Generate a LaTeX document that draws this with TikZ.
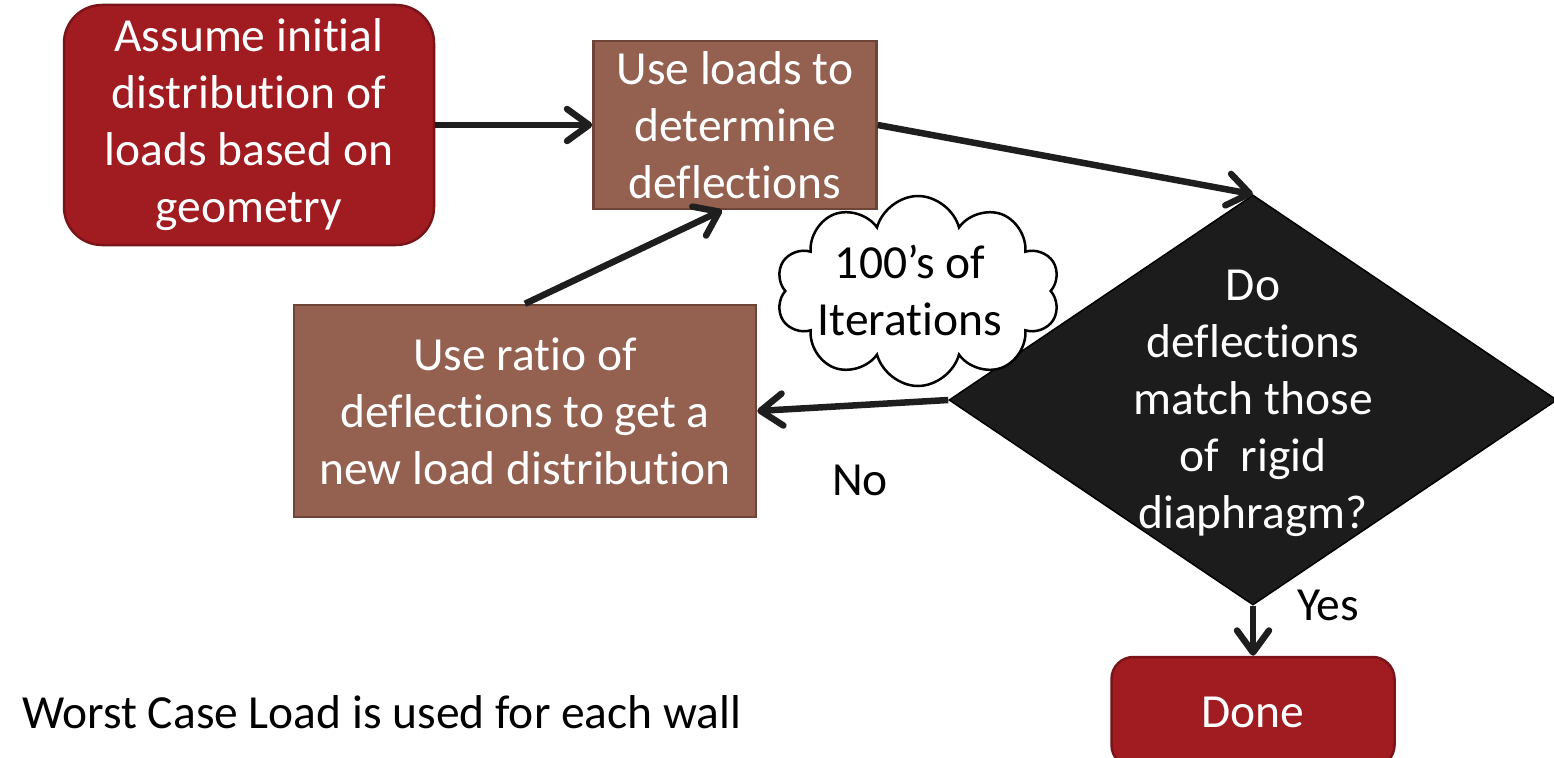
\documentclass[tikz,border=0pt]{standalone}
\usepackage{fontspec}
\setmainfont[Ligatures=CommonOff]{Carlito}
\usepackage{xcolor}
\usetikzlibrary{positioning,arrows.meta,shapes.geometric,shapes.symbols}
\definecolor{ink}{HTML}{1E1E1E}
\definecolor{termRed}{HTML}{A11C21}
\definecolor{termEdge}{HTML}{7A1418}
\definecolor{procBrown}{HTML}{94604F}
\definecolor{procEdge}{HTML}{6E4437}
\definecolor{decideFill}{HTML}{1C1C1C}
\tikzset{
  txt/.style={font=\fontsize{47.5}{57}\selectfont, align=center},
  term/.style={rectangle, rounded corners=38pt, fill=termRed, draw=termEdge, line width=2.5pt, inner sep=0pt, txt, text=white},
  proc/.style={rectangle, fill=procBrown, draw=procEdge, line width=2.5pt, inner sep=0pt, txt, text=white},
  decide/.style={diamond, fill=decideFill, draw=black, line width=1.5pt, inner sep=0pt},
  flow/.style={draw=ink, line width=6.5pt, -{Straight Barb[length=22pt,width=32pt,line cap=round,line join=round]}},
}

\begin{document}
\begin{tikzpicture}[x=1pt,y=-1pt]
\useasboundingbox (0,0) rectangle (1554,757);
% process boxes
\node[term, minimum width=370pt, minimum height=240pt] (init) at (249,125) {Assume initial\\distribution of\\loads based on\\geometry};
\node[proc, minimum width=283pt, minimum height=168pt] (defl) at (735,125) {Use loads to\\determine\\deflections};
\node[proc, minimum width=462pt, minimum height=212pt] (ratio) at (525,411) {Use ratio of\\deflections to get a\\new load distribution};
% decision
\node[decide, minimum width=608pt, minimum height=410pt] (check) at (1253,400) {};
\node[txt, text=white] (checktxt) at (1253,403) {Do\\deflections\\match those\\of~ rigid\\diaphragm?};
% loop note
\node[cloud, draw=black, fill=white, line width=2.5pt, cloud puffs=10, cloud ignores aspect, minimum width=284pt, minimum height=190pt, inner sep=0pt] (iter) at (918,291) {};
\node[txt] (itertxt) at (910,290) {100’s of\\Iterations};
\node[term, rounded corners=22pt, minimum width=283pt, minimum height=110pt] (done) at (1253,712) {Done};
% labels
\node[txt] (no) at (860,480) {No};
\node[txt] (yes) at (1328,605) {Yes};
\node[txt, anchor=west, inner sep=0pt] (note) at (22,712) {Worst Case Load is used for each wall};
% connectors
\draw[flow] (init.east) -- (defl.west);
\draw[flow] (defl.east) -- (check.north);
\draw[flow] (check.west) -- (ratio.east);
\draw[flow] (ratio.north) -- ([xshift=-13pt]defl.south);
\draw[flow] (check.south) -- (done.north);
\end{tikzpicture}
\end{document}
